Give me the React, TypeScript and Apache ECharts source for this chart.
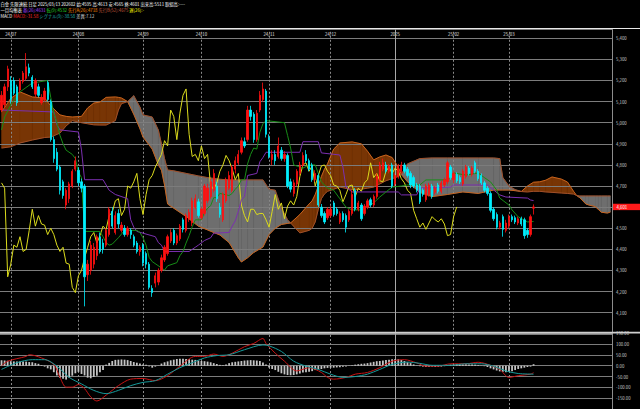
import React, { useEffect, useRef } from 'react';
import * as echarts from 'echarts';

const FONT = '"Noto Sans CJK JP", "Noto Sans", sans-serif';

// ---- axis / tick data ----
const totalSlots = 199; // 174 trading days + 25 forward slots for the cloud
const monthStartIdx = [3, 25, 46, 65, 87, 107, 128, 147, 165];
const monthLabels = ['24/07', '24/08', '24/09', '24/10', '24/11', '24/12', '2025', '25/02', '25/03'];
const yearStartIdx = 128;

// ---- candles: [open, close, low, high] ----
const ohlc: number[][] = [
  [5060, 5130, 5050, 5150], [5085, 5170, 5070, 5185], [5170, 5255, 5150, 5270], [5200, 5110, 5090, 5220],
  [5200, 5140, 5130, 5215], [5170, 5095, 5080, 5180], [5155, 5200, 5140, 5210], [5195, 5235, 5185, 5245],
  [5210, 5265, 5200, 5330], [5260, 5235, 5220, 5280], [5215, 5170, 5160, 5225], [5135, 5200, 5120, 5210],
  [5170, 5130, 5120, 5185], [5095, 5120, 5085, 5135], [5110, 5150, 5100, 5165], [5190, 5110, 5100, 5200],
  [5100, 4920, 4910, 5110], [4920, 4830, 4810, 4935], [4860, 4780, 4770, 4880], [4790, 4680, 4660, 4800],
  [4720, 4655, 4640, 4730], [4610, 4680, 4590, 4690], [4640, 4710, 4620, 4720], [4700, 4770, 4690, 4780],
  [4780, 4820, 4770, 4840], [4775, 4715, 4700, 4790], [4720, 4690, 4670, 4735], [4700, 4270, 4130, 4710],
  [4280, 4330, 4250, 4350], [4300, 4420, 4280, 4440], [4330, 4410, 4310, 4430], [4370, 4460, 4350, 4470],
  [4460, 4390, 4380, 4480], [4430, 4400, 4380, 4450], [4420, 4490, 4410, 4500], [4470, 4590, 4460, 4600],
  [4580, 4510, 4500, 4600], [4480, 4560, 4470, 4580], [4570, 4520, 4500, 4590], [4490, 4515, 4480, 4530],
  [4500, 4470, 4460, 4515], [4470, 4500, 4460, 4510], [4490, 4470, 4450, 4500], [4460, 4420, 4410, 4470],
  [4430, 4390, 4380, 4440], [4390, 4410, 4370, 4420], [4420, 4335, 4320, 4430], [4380, 4330, 4310, 4390],
  [4330, 4220, 4210, 4340], [4215, 4195, 4175, 4230], [4240, 4275, 4220, 4290], [4245, 4300, 4230, 4310],
  [4300, 4360, 4290, 4375], [4350, 4410, 4340, 4420], [4380, 4460, 4370, 4470], [4440, 4480, 4430, 4495],
  [4490, 4430, 4420, 4500], [4430, 4465, 4420, 4475], [4450, 4510, 4440, 4520], [4540, 4495, 4480, 4550],
  [4490, 4560, 4480, 4570], [4545, 4575, 4530, 4590], [4525, 4630, 4510, 4645], [4600, 4640, 4590, 4660],
  [4625, 4560, 4550, 4640], [4550, 4590, 4540, 4600], [4570, 4700, 4560, 4710], [4630, 4690, 4620, 4710],
  [4650, 4720, 4640, 4735], [4680, 4760, 4670, 4780], [4700, 4640, 4625, 4720], [4600, 4565, 4550, 4620],
  [4540, 4660, 4530, 4670], [4630, 4730, 4620, 4740], [4690, 4750, 4680, 4770], [4680, 4790, 4670, 4800],
  [4780, 4820, 4760, 4840], [4810, 4850, 4800, 4870], [4860, 4915, 4850, 4930], [4910, 4890, 4880, 4930],
  [4920, 5060, 4910, 5080], [5060, 5030, 5010, 5080], [5040, 4920, 4905, 5050], [4920, 5045, 4910, 5060],
  [5060, 5130, 5050, 5150], [5110, 5160, 5100, 5190], [5150, 4945, 4930, 5160], [4930, 4840, 4830, 4945],
  [4825, 4850, 4800, 4870], [4850, 4820, 4800, 4870], [4840, 4890, 4830, 4930], [4870, 4830, 4820, 4885],
  [4830, 4850, 4815, 4865], [4845, 4700, 4690, 4855], [4720, 4685, 4670, 4735], [4665, 4715, 4650, 4730],
  [4710, 4770, 4700, 4780], [4760, 4800, 4750, 4815], [4800, 4845, 4790, 4860], [4850, 4820, 4810, 4870],
  [4820, 4780, 4770, 4830], [4800, 4730, 4720, 4810], [4730, 4760, 4720, 4775], [4750, 4610, 4600, 4760],
  [4600, 4560, 4550, 4615], [4570, 4530, 4520, 4580], [4550, 4590, 4540, 4600], [4560, 4590, 4550, 4605],
  [4620, 4565, 4555, 4630], [4590, 4570, 4560, 4600], [4530, 4570, 4520, 4580], [4570, 4540, 4530, 4580],
  [4560, 4505, 4480, 4570], [4540, 4580, 4530, 4590], [4570, 4660, 4560, 4680], [4680, 4590, 4580, 4690],
  [4590, 4620, 4580, 4630], [4610, 4545, 4535, 4620], [4570, 4605, 4560, 4615], [4600, 4630, 4590, 4640],
  [4635, 4610, 4600, 4645], [4610, 4650, 4600, 4660], [4650, 4745, 4640, 4760], [4730, 4800, 4720, 4815],
  [4780, 4810, 4770, 4830], [4800, 4770, 4760, 4815], [4770, 4795, 4760, 4805], [4800, 4700, 4690, 4810],
  [4710, 4750, 4700, 4760], [4745, 4795, 4735, 4805], [4770, 4800, 4760, 4815], [4800, 4770, 4760, 4810],
  [4780, 4750, 4740, 4790], [4760, 4705, 4690, 4770], [4740, 4700, 4690, 4750], [4705, 4680, 4670, 4715],
  [4700, 4625, 4615, 4710], [4680, 4660, 4650, 4690], [4635, 4700, 4625, 4710], [4660, 4705, 4650, 4715],
  [4700, 4650, 4640, 4710], [4670, 4690, 4660, 4700], [4705, 4675, 4665, 4715], [4675, 4715, 4665, 4725],
  [4705, 4730, 4695, 4740], [4720, 4810, 4710, 4820], [4790, 4740, 4730, 4800], [4730, 4760, 4715, 4770],
  [4755, 4725, 4715, 4765], [4740, 4720, 4710, 4750], [4710, 4770, 4700, 4780], [4745, 4790, 4735, 4800],
  [4785, 4760, 4750, 4795], [4755, 4785, 4745, 4795], [4810, 4770, 4760, 4820], [4770, 4735, 4725, 4780],
  [4750, 4715, 4705, 4760], [4715, 4680, 4670, 4725], [4690, 4665, 4655, 4700], [4665, 4585, 4575, 4675],
  [4590, 4545, 4535, 4600], [4565, 4505, 4495, 4575], [4505, 4525, 4495, 4535], [4555, 4495, 4460, 4565],
  [4490, 4525, 4480, 4540], [4510, 4555, 4500, 4565], [4555, 4540, 4530, 4565], [4550, 4530, 4520, 4560],
  [4525, 4545, 4515, 4555], [4545, 4520, 4510, 4555], [4540, 4465, 4450, 4550], [4490, 4470, 4455, 4500],
  [4470, 4555, 4460, 4565], [4595, 4601, 4565, 4613],
];

// ---- ichimoku lines as [index, value] read points ----
const tenkan: number[][] = [
  [0, 4966], [1, 5027], [3, 5084], [6, 5146], [10, 5188], [12, 5193], [15, 5200], [16, 5120], [17, 5045],
  [18, 5000], [19, 4940], [20, 4900], [21, 4870], [23, 4850], [24, 4830], [25, 4765], [26, 4740], [27, 4485],
  [32, 4485], [33, 4460], [34, 4432], [35, 4420], [36, 4425], [38, 4455], [40, 4490], [44, 4490], [45, 4480],
  [46, 4455], [47, 4420], [48, 4362], [49, 4342], [53, 4302], [54, 4322], [57, 4337], [58, 4370], [59, 4390],
  [60, 4430], [61, 4465], [62, 4507], [63, 4540], [65, 4540], [66, 4575], [67, 4595], [68, 4607], [69, 4645],
  [70, 4645], [71, 4665], [74, 4655], [75, 4665], [76, 4685], [77, 4700], [78, 4730], [79, 4730], [80, 4805],
  [81, 4850], [82, 4880], [83, 4875], [84, 4955], [85, 4995], [86, 5010], [92, 5000], [93, 4940], [94, 4880],
  [95, 4800], [98, 4785], [100, 4800], [102, 4800], [103, 4760], [104, 4720], [106, 4690], [108, 4680],
  [110, 4640], [112, 4600], [114, 4587], [117, 4587], [119, 4601], [121, 4620], [123, 4648], [125, 4672],
  [127, 4695], [130, 4700], [132, 4705], [136, 4705], [138, 4729], [145, 4729], [147, 4762], [151, 4752],
  [155, 4762], [157, 4740], [159, 4720], [161, 4681], [162, 4643], [165, 4610], [166, 4587], [168, 4554],
  [171, 4530], [173, 4532],
];
const kijun: number[][] = [
  [0, 5060], [17, 5051], [18, 4990], [19, 4966], [25, 4956], [26, 4871], [27, 4730], [33, 4730], [34, 4705],
  [35, 4680], [37, 4660], [41, 4640], [42, 4540], [43, 4505], [44, 4485], [50, 4460], [51, 4432], [52, 4420],
  [53, 4390], [61, 4390], [63, 4410], [64, 4420], [66, 4442], [68, 4455], [69, 4477], [74, 4480], [75, 4510],
  [76, 4535], [77, 4580], [78, 4635], [79, 4650], [80, 4750], [83, 4760], [84, 4815], [85, 4835], [86, 4860],
  [97, 4860], [98, 4910], [103, 4910], [104, 4857], [110, 4847], [111, 4790], [112, 4695], [114, 4672],
  [129, 4672], [130, 4658], [135, 4658], [136, 4690], [146, 4695], [147, 4705], [158, 4705], [162, 4658],
  [164, 4648], [171, 4643], [172, 4634], [173, 4631],
];
const cloudIdx = [
  0, 3, 6, 10, 14, 16, 19, 21, 23, 26, 28, 30, 32, 34, 37, 38, 39, 41, 43, 45, 46, 49, 51, 52, 53, 54, 56, 60,
  64, 67, 71, 74, 77, 78, 80, 82, 85, 87, 89, 91, 93, 94, 97, 100, 101, 102, 103, 104, 105, 106, 108, 110, 114,
  117, 119, 121, 123, 125, 127, 129, 130, 132, 136, 140, 145, 150, 155, 160, 162, 163, 165, 167, 169, 171, 173,
  175, 177, 179, 182, 184, 186, 187, 188, 190, 191, 193, 194, 195, 197, 198,
];
const senkouA = [
  5051, 5115, 5146, 5122, 5117, 5080, 5037, 5030, 5027, 5030, 5070, 5093, 5098, 5120, 5122, 5120, 5117, 5100,
  5040, 4972, 4932, 4875, 4800, 4775, 4705, 4615, 4595, 4556, 4510, 4492, 4468, 4432, 4360, 4340, 4360, 4385,
  4411, 4470, 4500, 4518, 4523, 4525, 4565, 4615, 4630, 4660, 4700, 4745, 4780, 4805, 4875, 4904, 4909, 4900,
  4865, 4824, 4838, 4847, 4835, 4790, 4755, 4720, 4670, 4650, 4660, 4672, 4665, 4681, 4681, 4681, 4681, 4678,
  4674, 4700, 4718, 4720, 4728, 4743, 4733, 4719, 4675, 4655, 4645, 4615, 4610, 4603, 4590, 4576, 4572, 4577,
];
const senkouB = [
  4880, 4886, 4904, 4918, 4930, 4932, 4951, 4985, 5010, 5000, 4995, 4990, 4989, 4989, 5010, 5060, 5090, 5100,
  5128, 5074, 5037, 5027, 4965, 4900, 4830, 4776, 4772, 4760, 4748, 4740, 4732, 4729, 4729, 4729, 4729, 4729,
  4729, 4685, 4680, 4595, 4540, 4525, 4478, 4490, 4500, 4530, 4590, 4640, 4662, 4675, 4685, 4695, 4683, 4685,
  4690, 4695, 4710, 4725, 4735, 4745, 4755, 4805, 4830, 4833, 4833, 4833, 4833, 4833, 4830, 4740, 4700, 4683,
  4674, 4672, 4675, 4675, 4672, 4670, 4667, 4665, 4662, 4655, 4653, 4653, 4653, 4653, 4653, 4653, 4653, 4653,
];
const chikouShift = 25;

// ---- MACD panel ----
const macdLine: number[][] = [
  [0, 0], [2, 21], [8, 43], [9, 51], [13, 36], [17, 6], [19, -54], [21, -99], [23, -99], [25, -87], [27, -106],
  [29, -144], [31, -163], [34, -136], [38, -92], [42, -62], [46, -59], [50, -69], [54, -46], [58, -2], [63, 43],
  [66, 43], [69, 54], [72, 43], [75, 58], [79, 88], [82, 103], [85, 126], [86, 103], [89, 58], [92, 21],
  [96, -24], [100, -9], [104, -31], [106, -54], [108, -62], [112, -54], [115, -39], [119, -31], [123, -9],
  [127, 21], [131, 28], [135, 13], [138, -2], [142, -2], [146, 9], [151, 9], [155, 16], [159, 2], [162, -17],
  [165, -54], [168, -46], [172, -39], [173, -32],
];
const signalLine: number[][] = [
  [0, -17], [5, 14], [10, 28], [14, 28], [18, -2], [22, -54], [26, -84], [30, -114], [34, -129], [38, -114],
  [42, -92], [46, -77], [50, -69], [54, -39], [58, -9], [62, 14], [66, 36], [70, 47], [74, 51], [79, 74],
  [85, 96], [87, 92], [91, 66], [95, 21], [99, -2], [103, -17], [107, -39], [111, -54], [115, -50], [119, -39],
  [123, -17], [127, 6], [132, 17], [136, 11], [140, 2], [146, 2], [151, 9], [156, 9], [160, -2], [164, -24],
  [168, -36], [173, -39],
];
const macdHist = [
  25, 24, 23, 21, 20, 20, 20, 19, 19, 17, 16, 12, 9, 3, -4, -12, -17, -30, -45, -55, -60, -64, -55, -46, -35,
  -28, -38, -45, -55, -58, -52, -46, -30, -20, 5, 13, 22, 27, 28, 29, 28, 26, 22, 17, 14, 10, 6, 4, -3, -9,
  -4, 1, 10, 16, 20, 25, 28, 31, 32, 32, 31, 30, 28, 27, 24, 22, 21, 19, 16, 12, 8, 4, 2, 6, 12, 16, 18, 20,
  22, 24, 25, 26, 25, 24, 22, 15, 6, -8, -15, -20, -28, -35, -40, -43, -44, -43, -40, -36, -31, -30, -28,
  -25, -20, -17, -15, -12, -10, -9, -9, -8, -7, -5, -3, -1, 2, 5, 7, 9, 10, 12, 15, 18, 21, 22, 24, 26, 28,
  30, 31, 30, 27, 22, 16, 12, 6, 1, -2, -4, -6, -6, -5, -6, -5, -4, -2, 2, 5, 6, 7, 6, 6, 7, 6, 6, 5, 3, -1,
  -2, -6, -12, -17, -22, -26, -28, -30, -28, -26, -20, -15, -12, -9, -6, -4, 7,
];

// ---- header texts ----
const header1 = '白金 先限連続 日足 2025/03/13 202602 始:4595 高:4613 安:4565 終:4601 出来高:5511 取組高:----';
const header2: [string, string][] = [
  ['一目均衡表', '#ffffff'], ['基(26):4631', '#a040ff'], ['転(9):4532', '#22d022'],
  ['先行A(26):4718', '#ff8a00'], ['先行B(52):4675', '#c85a3c'], ['遅(26):-', '#ffff00'],
];
const header3: [string, string][] = [
  ['MACD', '#ffffff'], ['MACD:-31.58', '#ff2a2a'], ['シグナル(9):-38.58', '#20b0b0'], ['差異:7.12', '#d0d0d0'],
];

const HF = 4.3;
const richText = (segs: [string, string][]) => {
  const rich: Record<string, any> = {};
  const parts = segs.map(([t, c], k) => {
    rich['s' + k] = { fill: c, fontSize: HF, fontFamily: FONT };
    return `{s${k}|${t}}`;
  });
  return { text: parts.join(' '), rich };
};

const baseGraphics = (): any[] => [
  { type: 'text', id: 'h1', x: 0.5, y: 3.5, silent: true,
    style: { text: header1, fill: '#ffffff', fontSize: HF, fontFamily: FONT, verticalAlign: 'middle' } },
  { type: 'text', id: 'h2', x: 0.5, y: 9.5, silent: true,
    style: { ...richText(header2), fontSize: HF, fontFamily: FONT, verticalAlign: 'middle' } },
  { type: 'text', id: 'h3', x: 0.5, y: 15.5, silent: true,
    style: { ...richText(header3), fontSize: HF, fontFamily: FONT, verticalAlign: 'middle' } },
  { type: 'line', id: 'topLine', silent: true, z: 10,
    shape: { x1: 0, y1: 28.5, x2: 640, y2: 28.5 }, style: { stroke: '#e8e8e8', lineWidth: 1 } },
  { type: 'line', id: 'sepLine', silent: true, z: 10,
    shape: { x1: 0, y1: 332.6, x2: 640, y2: 332.6 }, style: { stroke: '#cfcfcf', lineWidth: 1.6 } },
];

export default function App() {
  const ref = useRef<HTMLDivElement>(null);
  useEffect(() => {
    document.body.style.margin = '0';
    document.body.style.background = '#000';
    const chart = echarts.init(ref.current!, null, { renderer: 'svg' });
    const cats = Array.from({ length: totalSlots }, (_, i) => String(i));
    const monthLine = (i: number) => ({
      xAxis: i,
      lineStyle: i === yearStartIdx
        ? { type: 'solid', color: '#a8a8a8', width: 1 }
        : { type: [2, 2], color: '#8a8a8a', width: 1 },
    });
    const monthMarks = {
      silent: true, symbol: ['none', 'none'], z: 1, animation: false,
      label: { show: false },
      data: monthStartIdx.map(monthLine),
    };
    const cloudSegments = cloudIdx.slice(0, -1).map((x0, k) => [
      x0, senkouA[k], senkouB[k], cloudIdx[k + 1], senkouA[k + 1], senkouB[k + 1],
    ]);
    const lineS = (name: string, data: number[][], color: string, xi: number, z: number, smooth: any = false) => ({
      type: 'line', name, data, xAxisIndex: xi, yAxisIndex: xi, symbol: 'none', smooth, z,
      lineStyle: { color, width: 1 }, silent: true,
    });
    const axisLabelStyle = { color: '#c8c8c8', fontSize: 4.3, fontFamily: FONT };

    const option: any = {
      animation: false,
      backgroundColor: '#000000',
      grid: [
        { left: 0, width: 612, top: 29.5, height: 304.3 },
        { left: 0, width: 612, top: 332.2, height: 78.5 },
      ],
      xAxis: [
        {
          type: 'category', gridIndex: 0, data: cats, position: 'top', boundaryGap: true,
          axisLine: { show: false }, axisTick: { show: false }, splitLine: { show: false },
          axisLabel: {
            ...axisLabelStyle, color: '#e0e0e0', inside: true, margin: 2,
            interval: (i: number) => monthStartIdx.includes(i),
            formatter: (_v: string, i: number) => {
              const k = monthStartIdx.indexOf(i);
              return k >= 0 ? monthLabels[k] : '';
            },
          },
        },
        { type: 'category', gridIndex: 1, data: cats, boundaryGap: true, show: false },
      ],
      yAxis: [
        {
          type: 'value', gridIndex: 0, position: 'right', min: 4000, max: 5441.6, interval: 100,
          axisLine: { show: true, lineStyle: { color: '#8c8c8c' } }, axisTick: { show: false },
          splitLine: { lineStyle: { color: '#7c7c7c', width: 1 } },
          axisLabel: {
            ...axisLabelStyle, margin: 4, showMaxLabel: false,
            formatter: (v: number) => (v % 100 === 0 && v >= 4100 ? v.toLocaleString('en-US') : ''),
          },
        },
        {
          type: 'value', gridIndex: 1, position: 'right', min: -200, max: 155, interval: 50,
          axisLine: { show: true, lineStyle: { color: '#8c8c8c' } }, axisTick: { show: false },
          splitLine: { lineStyle: { color: '#7c7c7c', width: 1 } },
          axisLabel: {
            ...axisLabelStyle, margin: 4, showMaxLabel: false,
            formatter: (v: number) => (v % 50 === 0 && v > -200 ? v.toFixed(2) : ''),
          },
        },
      ],
      series: [
        {
          type: 'custom', name: 'kumo', xAxisIndex: 0, yAxisIndex: 0, z: -1, silent: true,
          data: cloudSegments,
          renderItem: (_p: any, api: any) => {
            const x0 = api.value(0), a0 = api.value(1), b0 = api.value(2);
            const x1 = api.value(3), a1 = api.value(4), b1 = api.value(5);
            const up = a0 + a1 >= b0 + b1;
            const fill = up ? '#783505' : '#6e6e6e';
            return {
              type: 'polygon',
              shape: { points: [api.coord([x0, a0]), api.coord([x1, a1]), api.coord([x1, b1]), api.coord([x0, b0])] },
              style: { fill, stroke: fill, lineWidth: 0.5 },
            };
          },
        },
        lineS('先行A', cloudIdx.map((x, k) => [x, senkouA[k]]), '#c8641e', 0, 1),
        lineS('先行B', cloudIdx.map((x, k) => [x, senkouB[k]]), '#a0502a', 0, 1),
        lineS('遅行', ohlc.slice(chikouShift).map((d, k) => [k, d[1]]), '#dcdc1c', 0, 2),
        lineS('基準', kijun, '#7b2fb0', 0, 2),
        lineS('転換', tenkan, '#178c17', 0, 2),
        {
          type: 'candlestick', name: '白金', xAxisIndex: 0, yAxisIndex: 0, z: 3, silent: true,
          data: ohlc, barWidth: 1.8,
          itemStyle: { color: '#ff1010', color0: '#00f0ff', borderColor: '#ff1010', borderColor0: '#00f0ff', borderWidth: 0.8 },
          markLine: monthMarks,
        },
        {
          type: 'bar', name: 'hist', xAxisIndex: 1, yAxisIndex: 1, data: macdHist, barWidth: 1.8, z: 2, silent: true,
          itemStyle: { color: '#c4c4c4' },
          markLine: monthMarks,
        },
        lineS('MACD', macdLine, '#c81414', 1, 3, 0.3),
        lineS('シグナル', signalLine, '#169999', 1, 3, 0.3),
      ],
      graphic: baseGraphics(),
    };
    chart.setOption(option);

    const last = ohlc[ohlc.length - 1][1];
    const py = chart.convertToPixel({ yAxisIndex: 0 }, last) as number;
    chart.setOption({
      graphic: [
        ...baseGraphics(),
        { type: 'rect', id: 'pbox', silent: true, z: 20, shape: { x: 613, y: py - 3.2, width: 27, height: 6.4 }, style: { fill: '#ff1a1a' } },
        { type: 'text', id: 'ptxt', silent: true, z: 21, x: 616.5, y: py,
          style: { text: last.toLocaleString('en-US'), fill: '#ffffff', fontSize: 4.3, fontFamily: FONT, verticalAlign: 'middle' } },
      ],
    });
    return () => chart.dispose();
  }, []);
  return <div ref={ref} style={{ position: 'fixed', left: 0, top: 0, width: 640, height: 409, background: '#000' }} />;
}
